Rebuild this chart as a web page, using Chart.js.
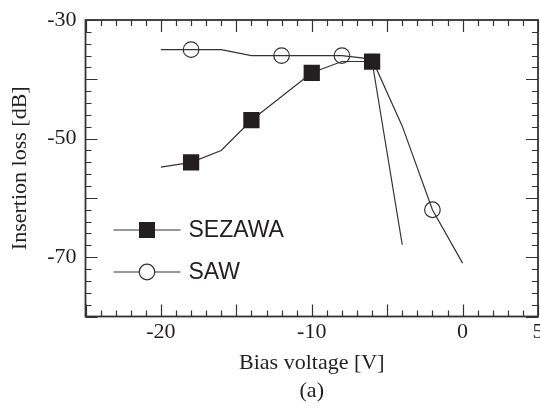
<!DOCTYPE html>
<html>
<head>
<meta charset="utf-8">
<script src="https://cdn.jsdelivr.net/npm/chart.js@4"></script>
<style>
  html, body { margin: 0; padding: 0; background: #fff; }
</style>
</head>
<body>
<canvas id="myChart" width="540" height="411"></canvas>
<script>
// bias voltage [V] vs insertion loss [dB]
const sezawaVoltage = [-20, -18, -16, -14, -10, -8, -6, -4];
const sezawaLoss = [-54.8, -54.0, -52.0, -46.9, -38.9, -37.0, -37.0, -67.9];
const sezawaMarked = [-18, -14, -10, -6]; // points that carry a marker

const sawVoltage = [-20, -18, -16, -14, -12, -8, -6, -4, -2, 0];
const sawLoss = [-35.0, -35.0, -35.0, -36.0, -36.0, -36.0, -36.6, -47.9, -62.0, -71.0];
const sawMarked = [-18, -12, -8, -2];

const xTickLabels = [-20, -10, 0, 5];
const yTickLabels = [-30, -50, -70];

const ink = '#231f20';
const lineInk = '#333333';
const serif = 'Liberation Serif';

function toPoints(xs, ys) {
  return xs.map((v, i) => ({ x: v, y: ys[i] }));
}

// ticks point into the plot on all four sides, plus the frame
const innerTicks = {
  id: 'innerTicks',
  afterDraw(chart) {
    const { ctx, chartArea: a, scales: { x, y } } = chart;
    ctx.save();
    ctx.strokeStyle = lineInk;
    ctx.lineWidth = 1.2;
    ctx.beginPath();
    x.ticks.forEach(t => {
      const px = Math.round(x.getPixelForValue(t.value)) + 0.5;
      const len = t.value % 5 === 0 ? 12 : 6;
      ctx.moveTo(px, a.bottom); ctx.lineTo(px, a.bottom - len);
      ctx.moveTo(px, a.top); ctx.lineTo(px, a.top + len);
    });
    y.ticks.forEach(t => {
      const py = Math.round(y.getPixelForValue(t.value)) + 0.5;
      const len = t.value % 10 === 0 ? 12 : 6;
      ctx.moveTo(a.left, py); ctx.lineTo(a.left + len, py);
      ctx.moveTo(a.right, py); ctx.lineTo(a.right - len, py);
    });
    ctx.stroke();
    ctx.lineWidth = 1.8;
    ctx.strokeRect(a.left, a.top, a.right - a.left, a.bottom - a.top);
    ctx.restore();
  }
};

// legend drawn inside the plot: line with the marker in its middle
const insideLegend = {
  id: 'insideLegend',
  afterDraw(chart) {
    const { ctx, chartArea: a } = chart;
    const rows = [
      { ds: chart.data.datasets[0], y: a.top + 210 },
      { ds: chart.data.datasets[1], y: a.top + 252 }
    ];
    ctx.save();
    rows.forEach(r => {
      const x0 = a.left + 28, x1 = a.left + 95, xm = (x0 + x1) / 2;
      ctx.strokeStyle = r.ds.borderColor;
      ctx.lineWidth = r.ds.borderWidth;
      ctx.beginPath();
      ctx.moveTo(x0, r.y); ctx.lineTo(x1, r.y);
      ctx.stroke();
      if (r.ds.pointStyle === 'rect') {
        const s = 16;
        ctx.fillStyle = r.ds.pointBackgroundColor;
        ctx.fillRect(xm - s / 2, r.y - s / 2, s, s);
      } else {
        ctx.fillStyle = '#fff';
        ctx.lineWidth = r.ds.pointBorderWidth;
        ctx.strokeStyle = r.ds.pointBorderColor;
        ctx.beginPath();
        ctx.arc(xm, r.y, 7.8, 0, Math.PI * 2);
        ctx.fill();
        ctx.stroke();
      }
      ctx.fillStyle = ink;
      ctx.font = '23px "Liberation Sans"';
      ctx.textBaseline = 'middle';
      ctx.fillText(r.ds.label, x1 + 8, r.y + 1);
    });
    ctx.restore();
  }
};

new Chart(document.getElementById('myChart'), {
  type: 'line',
  data: {
    datasets: [{
      label: 'SEZAWA',
      data: toPoints(sezawaVoltage, sezawaLoss),
      borderColor: lineInk,
      borderWidth: 1.2,
      pointStyle: 'rect',
      pointRadius: sezawaVoltage.map(v => sezawaMarked.includes(v) ? 11.5 : 0),
      pointBackgroundColor: ink,
      pointBorderColor: ink,
      pointBorderWidth: 0,
      fill: false,
      tension: 0
    }, {
      label: 'SAW',
      data: toPoints(sawVoltage, sawLoss),
      borderColor: lineInk,
      borderWidth: 1.2,
      pointStyle: 'circle',
      pointRadius: sawVoltage.map(v => sawMarked.includes(v) ? 7.8 : 0),
      pointBackgroundColor: 'rgba(0,0,0,0)',
      pointBorderColor: lineInk,
      pointBorderWidth: 1.2,
      fill: false,
      tension: 0
    }]
  },
  options: {
    responsive: false,
    animation: false,
    devicePixelRatio: 1,
    layout: { padding: { top: 20, right: 2, bottom: 0, left: 0 } },
    plugins: {
      legend: { display: false },
      tooltip: { enabled: false }
    },
    events: [],
    scales: {
      x: {
        type: 'linear',
        min: -25,
        max: 5,
        grid: { display: false, drawTicks: false },
        border: { display: false },
        ticks: {
          stepSize: 1,
          autoSkip: false,
          maxRotation: 0,
          maxTicksLimit: 100,
          padding: 3,
          color: ink,
          font: { family: serif, size: 22 },
          callback: v => xTickLabels.includes(v) ? String(v) : ''
        },
        title: {
          display: true,
          text: ['Bias voltage [V]', '(a)'],
          color: ink,
          font: { family: serif, size: 22, lineHeight: 1.3 },
          padding: { top: 0, bottom: 5 }
        },
        afterFit(scale) {
          scale.height = 94.5;
          scale.paddingLeft = 0;
          scale.paddingRight = 0;
        }
      },
      y: {
        min: -80,
        max: -30,
        grid: { display: false, drawTicks: false },
        border: { display: false },
        ticks: {
          stepSize: 2,
          autoSkip: false,
          maxTicksLimit: 100,
          padding: 9,
          color: ink,
          font: { family: serif, size: 22 },
          callback: v => yTickLabels.includes(v) ? String(v) : ''
        },
        title: {
          display: true,
          text: 'Insertion loss [dB]',
          color: ink,
          font: { family: serif, size: 22 },
          padding: { top: 7, bottom: 0 }
        },
        afterFit(scale) {
          scale.width = 85.5;
          scale.paddingTop = 0;
          scale.paddingBottom = 0;
        }
      }
    }
  },
  plugins: [innerTicks, insideLegend]
});
</script>
</body>
</html>
